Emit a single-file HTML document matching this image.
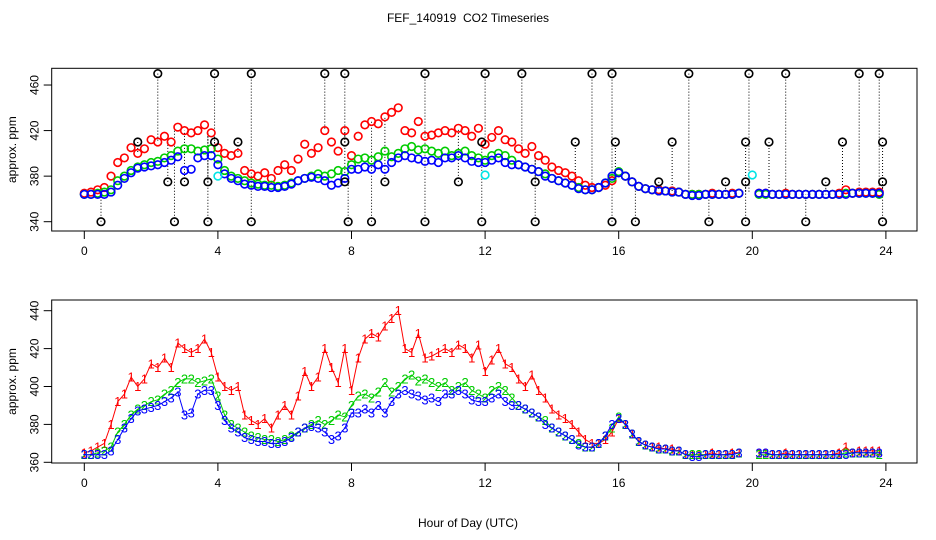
<!DOCTYPE html>
<html><head><meta charset="utf-8"><style>
body{margin:0;background:#fff}
svg{display:block;font-family:"Liberation Sans",sans-serif}
</style></head><body>
<svg id="chart" width="936" height="540" xmlns="http://www.w3.org/2000/svg">
<rect width="936" height="540" fill="#fff"/>
<text x="468" y="22" font-size="12" text-anchor="middle" style="white-space:pre">FEF_140919  CO2 Timeseries</text>
<text x="468" y="527" font-size="12" text-anchor="middle">Hour of Day (UTC)</text>
<g id="topPanel"></g>
<g id="botPanel"></g>
</svg>
<script>
const hourStep = 0.2;
const redSeries = [365,366,368,370,380,392,396,405,400,404,412,410,415,410,423,420,418,420,425,418,405,400,398,400,385,382,380,383,378,385,390,385,395,408,400,405,420,410,402,420,398,415,425,428,426,432,436,440,420,418,428,415,416,418,420,418,422,420,415,422,408,414,420,412,410,404,400,406,398,394,388,385,383,380,376,372,370,370,372,376,383,380,375,371,369,368,368,367,367,366,364,364,364,364,365,364,364,365,365,null,null,365,365,364,364,365,364,364,364,364,364,364,364,365,368,365,366,366,366,366];
const greenSeries = [364,364,365,366,368,376,380,385,388,390,392,393,396,398,402,404,404,402,403,404,395,385,380,378,376,374,373,372,372,371,372,374,376,378,380,382,380,382,385,384,390,395,396,394,397,402,397,400,404,406,403,404,402,400,402,398,400,402,398,396,394,398,400,398,394,390,388,386,384,382,378,376,374,372,370,368,368,370,374,378,384,380,375,371,369,368,367,367,366,366,364,364,364,364,364,364,364,364,365,null,null,364,364,364,364,364,364,364,364,364,364,364,364,364,365,365,365,365,365,364];
const blueSeries = [364,364,364,364,366,372,378,383,387,388,389,390,392,394,397,385,386,396,398,398,390,382,378,376,373,372,371,371,370,370,371,373,376,378,379,378,376,372,374,378,386,386,388,386,390,386,392,396,398,396,395,393,394,392,396,396,398,396,393,392,392,394,396,392,390,390,388,386,384,380,378,376,374,372,369,368,368,370,374,380,383,380,375,371,369,368,367,367,366,366,364,363,363,364,364,364,364,364,365,null,null,365,365,364,364,364,364,364,364,364,364,364,364,364,364,365,365,365,365,365];
const outlierHours = [2.2,3.9,5.0,7.2,7.8,10.2,12.0,13.1,15.2,15.8,18.1,19.9,21.0,23.2,23.8, 1.6,3.9,4.6,7.8,11.9,14.7,15.9,17.6,19.8,20.5,22.7,23.9, 2.5,3.0,3.7,7.8,9.0,11.2,13.5,17.2,19.2,19.8,22.2,23.9, 0.5,2.7,3.7,5.0,7.9,8.6,10.2,11.9,13.5,15.8,16.5,18.7,19.8,21.6,23.9];
const outlierValues = [470,470,470,470,470,470,470,470,470,470,470,470,470,470,470, 410,410,410,410,410,410,410,410,410,410,410,410, 375,375,375,375,375,375,375,375,375,375,375,375, 340,340,340,340,340,340,340,340,340,340,340,340,340,340,340];
const cyanHours = [4.0,12.0,20.0];
const cyanValues = [380,381,381];
const xTicks = [0,4,8,12,16,20,24];
const topYTicks = [340,380,420,460];
const botYTicks = [360,380,400,420,440];

const NS="http://www.w3.org/2000/svg";
function mk(parent,tag,attrs){const e=document.createElementNS(NS,tag);for(const k in attrs)e.setAttribute(k,attrs[k]);parent.appendChild(e);return e;}
const X0=51.7,X1=917;
const xs=h=>84.3+h*33.4;
const topY=v=>221.7-(v-340)*1.139;
const botY=v=>462.3-(v-360)*1.895;

function axes(g,yTop,yBot,yf,yticks,name){
  const box=mk(g,'rect',{x:X0,y:yTop,width:X1-X0,height:yBot-yTop,fill:'none',stroke:'#000','stroke-width':1});
  
  
  xTicks.forEach(t=>{
    const l=mk(g,'line',{x1:xs(t),x2:xs(t),y1:yBot,y2:yBot+8,stroke:'#000'});
    
    
    const tx=mk(g,'text',{x:xs(t),y:yBot+24,'font-size':12,'text-anchor':'middle'});
    tx.textContent=t;
    
    
  });
  yticks.forEach(t=>{
    const y=yf(t);
    const l=mk(g,'line',{x1:X0-8,x2:X0,y1:y,y2:y,stroke:'#000'});
    
    
    const tx=mk(g,'text',{x:0,y:0,'font-size':12,'text-anchor':'middle',transform:`translate(${X0-13},${y}) rotate(-90)`});
    tx.textContent=t;
    
    
  });
  const yl=mk(g,'text',{x:0,y:0,'font-size':12,'text-anchor':'middle',transform:`translate(16,${(yTop+yBot)/2}) rotate(-90)`});
  yl.textContent='approx. ppm';
  
  
}

// top panel
const topG=document.getElementById('topPanel');
axes(topG,68.3,231,topY,topYTicks,'top');
const sIdx=h=>Math.round(h/hourStep);
outlierHours.forEach((h,i)=>{
  const v=outlierValues[i];
  let ref=redSeries[Math.min(sIdx(h),redSeries.length-1)];
  if(ref==null)ref=365;
  const l=mk(topG,'line',{x1:xs(h),x2:xs(h),y1:topY(v),y2:topY(ref),stroke:'#000','stroke-dasharray':'1,2','stroke-width':1});
  
  
});
[[redSeries,'#ff0000','red'],[greenSeries,'#00cc00','green'],[blueSeries,'#0000ff','blue']].forEach(([arr,col,nm])=>{
  arr.forEach((v,i)=>{
    if(v==null)return;
    const c=mk(topG,'circle',{cx:xs(i*hourStep),cy:topY(v),r:3.8,fill:'none',stroke:col,'stroke-width':1.6});
    
    
  });
});
outlierHours.forEach((h,i)=>{
  const c=mk(topG,'circle',{cx:xs(h),cy:topY(outlierValues[i]),r:3.8,fill:'none',stroke:'#000','stroke-width':1.6});
  
  
});
cyanHours.forEach((h,i)=>{
  const c=mk(topG,'circle',{cx:xs(h),cy:topY(cyanValues[i]),r:3.8,fill:'none',stroke:'#00e5e5','stroke-width':1.6});
  
  
});

// bottom panel
const botG=document.getElementById('botPanel');
axes(botG,300,463,botY,botYTicks,'bottom');
[[redSeries,'#ff0000','1','red'],[greenSeries,'#00cc00','2','green'],[blueSeries,'#0000ff','3','blue']].forEach(([arr,col,lab,nm])=>{
  let d='';let pen=false;
  arr.forEach((v,i)=>{
    if(v==null){pen=false;return;}
    d+=(pen?'L':'M')+xs(i*hourStep).toFixed(1)+' '+botY(v).toFixed(1)+' ';pen=true;
  });
  const p=mk(botG,'path',{d:d,fill:'none',stroke:col,'stroke-width':1});
  
  
  arr.forEach((v,i)=>{
    if(v==null)return;
    const t=mk(botG,'text',{x:xs(i*hourStep),y:botY(v)+4.5,'font-size':13,'text-anchor':'middle',fill:col});
    t.textContent=lab;
    
    
  });
});
</script>
</body></html>
